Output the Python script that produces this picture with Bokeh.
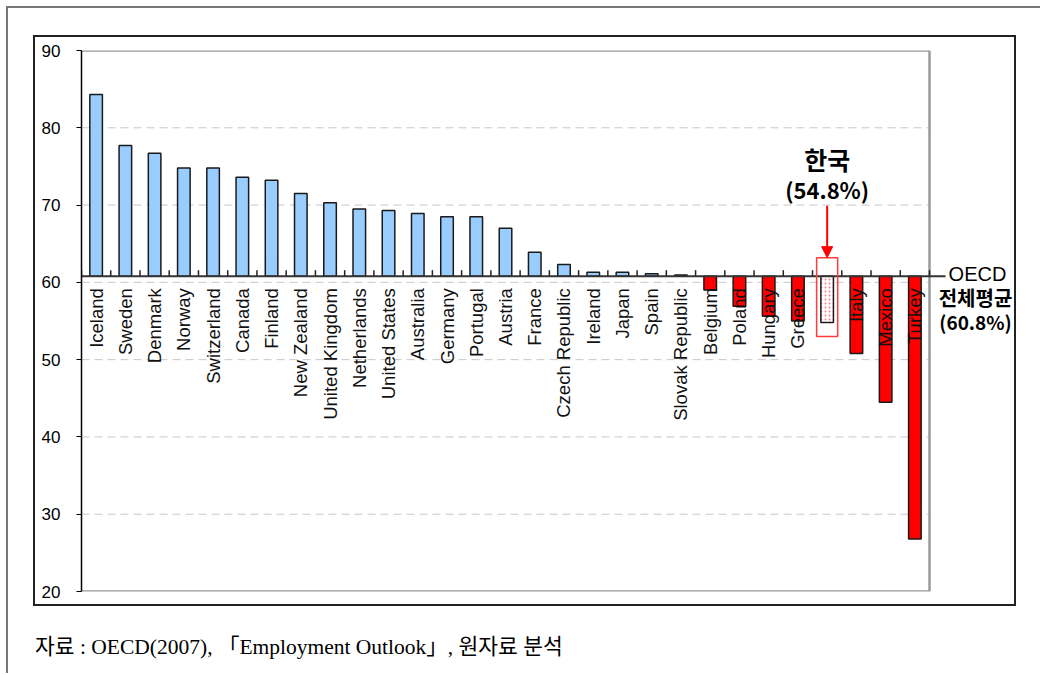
import numpy as np
from bokeh.plotting import figure
from bokeh.layouts import column
from bokeh.models import Range1d, FixedTicker, Label, Arrow, NormalHead, ColumnDataSource, Div
from bokeh.core.properties import value
from bokeh.embed import file_html
from bokeh.resources import INLINE

# ---------------- data ----------------
countries = ["Iceland", "Sweden", "Denmark", "Norway", "Switzerland", "Canada", "Finland",
             "New Zealand", "United Kingdom", "Netherlands", "United States", "Australia",
             "Germany", "Portugal", "Austria", "France", "Czech Republic", "Ireland", "Japan",
             "Spain", "Slovak Republic", "Belgium", "Poland", "Hungary", "Greece", "Korea",
             "Italy", "Mexico", "Turkey"]
values = [84.3, 77.7, 76.7, 74.8, 74.8, 73.6, 73.2, 71.5, 70.3, 69.5, 69.3, 68.9, 68.5, 68.5,
          67.0, 63.9, 62.3, 61.3, 61.3, 61.1, 60.95, 59.0, 56.9, 55.6, 55.0, 54.8, 50.8, 44.5, 26.8]
highlight = "Korea"
highlight_label = "한국"
oecd_avg = 60.8
oecd_label = ["OECD", "전체평균"]
y_ticks = [20, 30, 40, 50, 60, 70, 80, 90]
caption = "자료 : OECD(2007), 「Employment Outlook」, 원자료 분석"

# ---------------- layout (page pixels) ----------------
OUT = 6                                   # outer frame offset
IB_L, IB_T, IB_R, IB_B = 35, 37, 1014, 604  # inner (black) box = figure canvas
FL, PR, FT, FB = 81, 929, 50, 591         # plot area left/right/top/bottom
FR = IB_R                                 # frame right (room for OECD labels)
N = len(countries)
Y0, Y1 = y_ticks[0], y_ticks[-1]
PX_PER_Y = (FB - FT) / (Y1 - Y0)
PX_PER_X = (PR - FL) / N


def dx(px):
    return -0.5 + (px - FL) / PX_PER_X


def dy(py):
    return Y1 - (py - FT) / PX_PER_Y


p = figure(width=IB_R - IB_L, height=IB_B - IB_T, output_backend="svg", toolbar_location=None,
           x_range=Range1d(-0.5, dx(FR)), y_range=Range1d(Y0, Y1),
           x_axis_location=None,
           min_border_left=FL - IB_L, min_border_right=IB_R - FR,
           min_border_top=FT - IB_T, min_border_bottom=IB_B - FB)
p.margin = (IB_T - OUT, 4, 0, IB_L - OUT)
p.styles = {"box-shadow": "0 0 0 2px #222222"}
p.background_fill_color = "white"
p.border_fill_color = "white"
p.outline_line_color = None
p.xgrid.visible = False
p.ygrid.visible = False

ax = p.yaxis[0]
ax.ticker = FixedTicker(ticks=y_ticks)
ax.major_label_text_font = "Liberation Sans"
ax.major_label_text_font_size = "17px"
ax.major_label_text_color = "#000000"
ax.axis_line_color = "#000000"
ax.axis_line_width = 1.5
ax.major_tick_out = 5
ax.major_tick_in = 0
ax.major_tick_line_color = "#000000"
ax.minor_tick_out = 0
ax.minor_tick_in = 0
ax.major_label_standoff = 16

x_left, x_right = -0.5, N - 0.5

# gridlines (dashed) inside plot area
inner_ticks = y_ticks[1:-1]
p.segment(x0=[x_left] * len(inner_ticks), x1=[x_right] * len(inner_ticks),
          y0=inner_ticks, y1=inner_ticks, line_color="#C8C8C8", line_width=1, line_dash="8 5")
# plot-area border (top, right, bottom)
p.segment(x0=[x_left, x_right, x_left], x1=[x_right, x_right, x_right],
          y0=[Y1, Y0, Y0], y1=[Y1, Y1, Y0], line_color="#9A9A9A", line_width=2.5)

# ---------------- bars ----------------
idx = np.arange(N)
vals = np.array(values)
ki = countries.index(highlight)
kv = values[ki]
mask = np.array([c != highlight for c in countries])
top = np.maximum(vals, oecd_avg)
bottom = np.minimum(vals, oecd_avg)
colors = np.array(["#99CCFF" if v >= oecd_avg else "#FF0000" for v in values])

src = ColumnDataSource(dict(x=idx[mask], top=top[mask], bottom=bottom[mask], color=colors[mask]))
p.vbar(x="x", top="top", bottom="bottom", width=0.43, fill_color="color",
       line_color="#1A1A1A", line_width=1.5, source=src)
p.vbar(x=[ki], top=[oecd_avg], bottom=[kv], width=0.43, fill_color="white",
       hatch_pattern="dot", hatch_color="#FF8080", hatch_scale=4, hatch_weight=1,
       line_color="#1A1A1A", line_width=1.5)

# category axis at OECD average
bounds = np.arange(N + 1) - 0.5
p.segment(x0=bounds, x1=bounds, y0=[oecd_avg] * len(bounds),
          y1=[oecd_avg + 6 / PX_PER_Y] * len(bounds), line_color="#222222", line_width=1.5)
p.segment(x0=[x_left], x1=[dx(945)], y0=[oecd_avg], y1=[oecd_avg],
          line_color="#333333", line_width=2)

# category labels
lab_x = idx[mask]
lab_t = [c for c in countries if c != highlight]
p.text(x=lab_x, y=[oecd_avg] * len(lab_x), text=lab_t, angle=np.pi / 2, y_offset=12,
       text_align="right", text_baseline="middle", text_font=value("Liberation Sans"),
       text_font_size="18.5px", text_color="#111111")

# Korea highlight box + arrow + labels
box_top = oecd_avg + 2.4
p.quad(left=[ki - 0.36], right=[ki + 0.36], top=[box_top], bottom=[kv - 1.8],
       fill_alpha=0, line_color="#FF3B3B", line_width=1.5)
p.add_layout(Arrow(end=NormalHead(size=11, fill_color="#FF0000", line_color="#FF0000"),
                   x_start=ki, y_start=box_top + 52 / PX_PER_Y, x_end=ki, y_end=box_top,
                   line_color="#FF0000", line_width=2))
p.add_layout(Label(x=ki, y=dy(158), text=highlight_label, text_align="center",
                   text_baseline="middle", text_font="Noto Sans CJK KR", text_font_style="bold",
                   text_font_size="25px", text_color="#000000"))
p.add_layout(Label(x=ki, y=dy(188), text=f"({kv}%)", text_align="center",
                   text_baseline="middle", text_font="Noto Sans CJK KR", text_font_style="bold",
                   text_font_size="22px", text_color="#000000"))

# OECD average labels
p.add_layout(Label(x=dx(977), y=dy(273), text=oecd_label[0], text_align="center",
                   text_baseline="middle", text_font="Liberation Sans",
                   text_font_size="20px", text_color="#000000"))
p.add_layout(Label(x=dx(975), y=dy(297), text=oecd_label[1], text_align="center",
                   text_baseline="middle", text_font="Noto Sans CJK KR", text_font_style="bold",
                   text_font_size="20px", text_color="#000000"))
p.add_layout(Label(x=dx(975), y=dy(321), text=f"({oecd_avg}%)", text_align="center",
                   text_baseline="middle", text_font="Noto Sans CJK KR", text_font_style="bold",
                   text_font_size="19px", text_color="#000000"))

# caption
cap = Div(text=caption, margin=(28, 0, 0, IB_L - OUT),
          styles={"font-family": "'Liberation Serif', 'Noto Sans CJK KR', serif",
                  "font-size": "21.5px", "color": "#000000", "white-space": "nowrap"})

layout = column(p, cap, width=1040 - OUT, height=675 - OUT - 2, margin=(OUT, 0, 0, OUT),
                styles={"box-shadow": "inset 2px 2px 0 0 #777777"})

open("out.html", "w").write(file_html(layout, INLINE))
